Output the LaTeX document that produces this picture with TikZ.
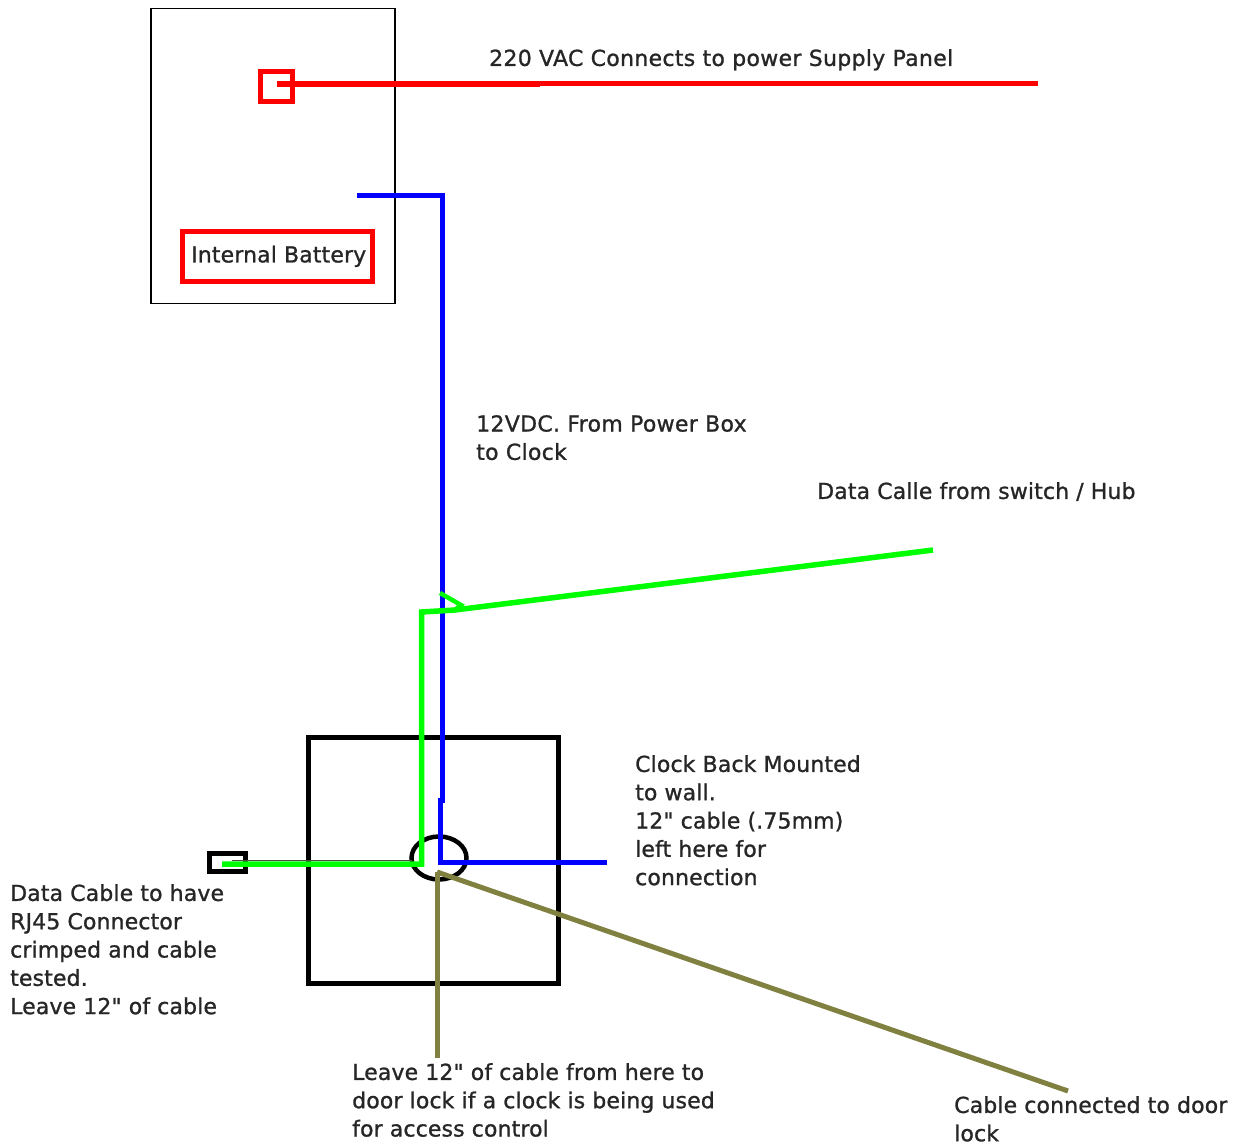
\documentclass[tikz,border=0pt]{standalone}
\usepackage{fontspec}
\usetikzlibrary{shapes.geometric}
\newfontfamily\lblfont[FakeBold=1.1,LetterSpace=0.6]{DejaVu Sans}
\newfontfamily\lblwide[FakeBold=1.1,LetterSpace=1.4]{DejaVu Sans}
\definecolor{wred}{RGB}{255,0,0}
\definecolor{wblue}{RGB}{0,0,255}
\definecolor{wgreen}{RGB}{0,255,0}
\definecolor{wolive}{RGB}{128,128,64}
\tikzset{
  x=1pt,y=-1pt,
  lbl/.style={inner sep=0pt,anchor=north west,align=left,font=\lblfont\fontsize{22}{28.3}\selectfont,text=black!85},
  lblw/.style={lbl,font=\lblwide\fontsize{22}{28.3}\selectfont},
  box/.style={draw,inner sep=0pt,outer sep=0pt,anchor=north west},
  redwire/.style={draw=wred,line width=5pt},
  bluewire/.style={draw=wblue,line width=5pt},
  greenwire/.style={draw=wgreen,line width=5.5pt},
  olivewire/.style={draw=wolive,line width=5pt}
}
\begin{document}
\begin{tikzpicture}
\useasboundingbox (0,0) rectangle (1235,1147);
% boxes
\node[box,line width=1.2pt,minimum width=244pt,minimum height=295pt] (psu) at (151,8.5) {};
\node[box,draw=wred,line width=5pt,minimum width=32pt,minimum height=30pt] (term) at (260.5,71.5) {};
\node[box,draw=wred,line width=5pt,minimum width=190pt,minimum height=50pt] (batt) at (182,232) {};
\node[box,line width=5pt,minimum width=250pt,minimum height=246pt] (clock) at (308,737) {};
\node[box,line width=5pt,minimum width=36pt,minimum height=18pt] (rj) at (209,853) {};
\node[draw,line width=4.5pt,ellipse,inner sep=0pt,outer sep=0pt,minimum width=55pt,minimum height=43pt] (hub) at (439,858) {};
% wire end points
\coordinate (redstart) at (277,84);
\coordinate (redmid) at (540,84);
\coordinate (redend) at (1038,84);
\coordinate (bluestart) at (357,196);
\coordinate (bluecorner) at (442.5,196);
\coordinate (bluestep) at (442.5,800);
\coordinate (bluestepb) at (440,800);
\coordinate (bluelow) at (440,862);
\coordinate (blueend) at (607,862);
\coordinate (greenend) at (933,550);
\coordinate (greenbend) at (421.5,612);
\coordinate (greenlow) at (421.5,864);
\coordinate (greenrj) at (222,864);
\coordinate (tick) at (440,593);
\coordinate (tickb) at (461,605);
\coordinate (tickc) at (455,610);
\coordinate (olivestart) at (437,872);
\coordinate (olivedown) at (437,1058);
\coordinate (oliveend) at (1068,1091);
\coordinate (darka) at (232,860.5);
\coordinate (darkb) at (412,860.5);
% wires
\draw[redwire,line width=6pt] (redstart) -- (redmid);
\draw[redwire] (redmid) -- (redend);
\draw[bluewire,line join=miter] (bluestart) -- (bluecorner) -- (bluestep) -- (bluestepb) -- (bluelow) -- (blueend);
\draw[olivewire] (olivestart) -- (olivedown);
\draw[olivewire] (olivestart) -- (oliveend);
\draw[line width=1.5pt,black!70] (darka) -- (darkb);
\draw[greenwire] (greenend) -- (tickc) -- (greenbend) -- (greenlow) -- (greenrj);
\draw[greenwire,line width=4.5pt] (tick) -- (tickb) -- (tickc);
% labels
\node[lblw] (t1) at (489,49) {220 VAC Connects to power Supply Panel};
\node[lbl] (t2) at (191,245.5) {Internal Battery};
\node[lblw] (t3) at (476,415) {12VDC. From Power Box\\to Clock};
\node[lbl] (t4) at (817,482) {Data Calle from switch / Hub};
\node[lbl] (t5) at (635,755) {Clock Back Mounted\\to wall.\\12" cable (.75mm)\\left here for\\connection};
\node[lbl] (t6) at (10,884) {Data Cable to have\\RJ45 Connector\\crimped and cable\\tested.\\Leave 12" of cable};
\node[lbl] (t7) at (352,1063) {Leave 12" of cable from here to\\door lock if a clock is being used\\for access control};
\node[lbl] (t8) at (954,1096) {Cable connected to door\\lock};
\end{tikzpicture}
\end{document}
